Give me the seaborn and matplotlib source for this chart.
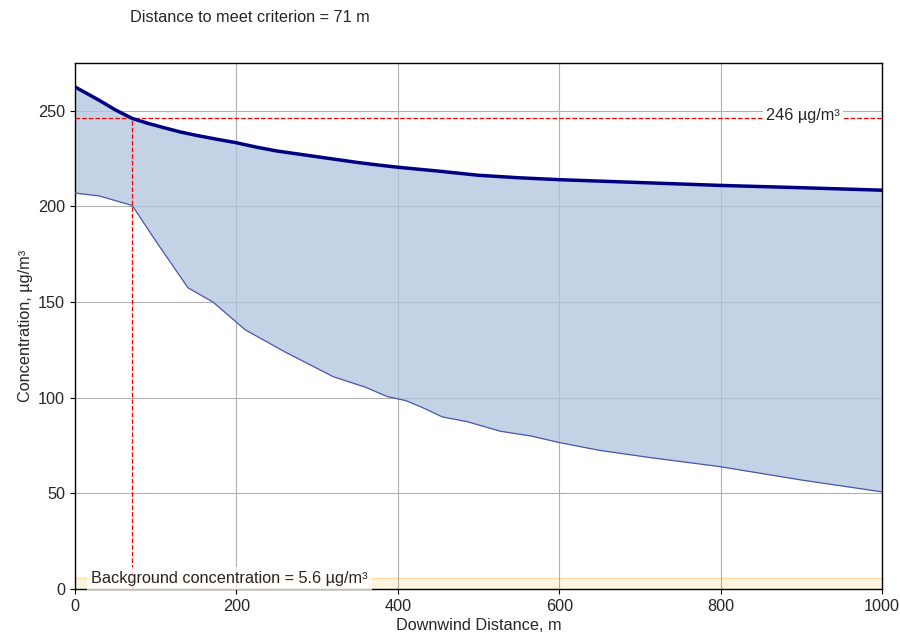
import numpy as np
import pandas as pd
import matplotlib
matplotlib.use('Agg')
import matplotlib.pyplot as plt
import seaborn as sns

# 風下距離ごとの濃度
upper_x = [0, 15, 30, 50, 71, 90, 110, 130, 150, 175, 200, 225, 250, 275, 300, 325, 350, 375, 400, 450, 500, 550, 600, 700, 800, 900, 1000]
upper_y = [262.5, 259.0, 255.5, 250.5, 246.0, 243.5, 241.2, 239.0, 237.2, 235.2, 233.3, 231.0, 229.0, 227.5, 226.0, 224.5, 223.0, 221.7, 220.5, 218.5, 216.3, 215.0, 214.0, 212.5, 211.0, 209.8, 208.5]

lower_x = [0, 30, 71, 100, 140, 171, 211, 260, 320, 360, 387, 410, 430, 455, 486, 527, 565, 601, 650, 713, 799, 900, 1000]
lower_y = [207.0, 205.5, 200.5, 182.0, 157.5, 150.0, 135.5, 124.0, 111.0, 105.5, 100.6, 98.5, 95.0, 90.0, 87.5, 82.5, 80.0, 76.5, 72.5, 68.7, 64.0, 57.0, 50.8]

criterion = 246
criterion_dist = 71
background = 5.6

sns.set_style('ticks')
plt.rcParams['font.family'] = ['Liberation Sans', 'DejaVu Sans']
plt.rcParams['font.size'] = 11.7

upper = pd.DataFrame({'x': upper_x, 'y': upper_y})
lower = pd.DataFrame({'x': lower_x, 'y': lower_y})

fig = plt.figure(figsize=(9, 6.35), dpi=100)
ax = fig.add_axes([0.0833, 0.0724, 0.8967, 0.8284])

# 上限・下限の間を塗りつぶし
xs = np.linspace(0, 1000, 501)
ax.fill_between(xs, np.interp(xs, lower_x, lower_y), np.interp(xs, upper_x, upper_y),
                color='lightsteelblue', alpha=0.75, lw=0, zorder=1)
sns.lineplot(data=upper, x='x', y='y', ax=ax, color='navy', lw=2.5, zorder=3)
sns.lineplot(data=lower, x='x', y='y', ax=ax, color='#4a55b0', lw=0.9, zorder=3)

# 基準線
ax.axhline(criterion, color='red', ls='--', lw=0.9, zorder=2)
ax.plot([criterion_dist, criterion_dist], [0, criterion], color='red', ls='--', lw=0.9, zorder=2)
ax.text(902, criterion + 1.5, '246 µg/m³', ha='center', va='center', zorder=5,
        bbox=dict(facecolor='white', edgecolor='none', pad=2))

# バックグラウンド濃度
ax.axhspan(0, background, color='orange', alpha=0.12, lw=0, zorder=1)
ax.axhline(background, color='orange', alpha=0.3, lw=1, zorder=1)
ax.text(20, background, 'Background concentration = %.1f µg/m³' % background,
        ha='left', va='center', zorder=6, clip_on=False,
        bbox=dict(facecolor='white', edgecolor='none', alpha=0.75, pad=3))

ax.set_xlim(0, 1000)
ax.set_ylim(0, 275)
ax.set_xticks([0, 200, 400, 600, 800, 1000])
ax.set_yticks([0, 50, 100, 150, 200, 250])
ax.grid(True, color='#b0b0b0', lw=0.8)
ax.set_axisbelow(True)
for s in ax.spines.values():
    s.set_color('black')
    s.set_linewidth(1)
ax.tick_params(colors='black', labelcolor='#262626', labelsize=11.7)
ax.set_xlabel('Downwind Distance, m', labelpad=3)
ax.set_ylabel('Concentration, µg/m³', labelpad=4)

fig.text(130 / 900, 1 - 18 / 635, 'Distance to meet criterion = %d m' % criterion_dist,
         ha='left', va='center', fontsize=11.7)

fig.savefig('out.png', dpi=100)
